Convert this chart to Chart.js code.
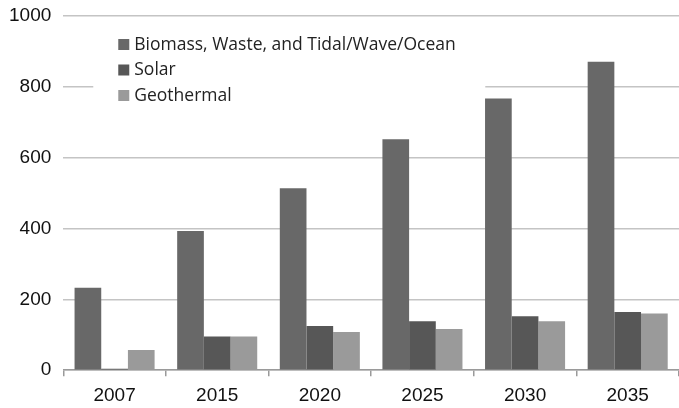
<!DOCTYPE html>
<html>
<head>
<meta charset="utf-8">
<script src="https://cdn.jsdelivr.net/npm/chart.js@4"></script>
<style>
    html, body { margin: 0; padding: 0; background: #fff; overflow: hidden; }
    #wrap { width: 679px; height: 408px; }
</style>
</head>
<body>
<div id="wrap"><canvas id="renewChart"></canvas></div>
<script>
// Chart values
const years = ['2007', '2015', '2020', '2025', '2030', '2035'];
const biomass = [233, 393, 514, 652, 767, 871];
const solar = [4, 95, 125, 138, 152, 164];
const geothermal = [57, 95, 108, 116, 138, 160];
const yTicks = [0, 200, 400, 600, 800, 1000];

// Legend drawn inside the plot area, on a white box over the grid lines
const insideLegend = {
    id: 'insideLegend',
    beforeDatasetsDraw(chart) {
        const ctx = chart.ctx;
        const area = chart.chartArea;
        const x = area.left + 55;
        const y = area.top + 28;
        ctx.save();
        ctx.fillStyle = '#ffffff';
        ctx.fillRect(area.left + 30, area.top + 10, 392, 90);
        ctx.font = '17.5px "Open Sans"';
        ctx.textBaseline = 'middle';
        chart.data.datasets.forEach((ds, i) => {
            const rowY = y + i * 25.5;
            ctx.fillStyle = ds.backgroundColor;
            ctx.fillRect(x, rowY - 5, 11, 11);
            ctx.fillStyle = '#222222';
            ctx.fillText(ds.label, x + 16, rowY + 1);
        });
        ctx.restore();
    }
};

const ctx = document.getElementById('renewChart').getContext('2d');
const renewChart = new Chart(ctx, {
    type: 'bar',
    data: {
        labels: years,
        datasets: [
            {
                label: 'Biomass, Waste, and Tidal/Wave/Ocean',
                data: biomass,
                backgroundColor: '#686868'
            },
            {
                label: 'Solar',
                data: solar,
                backgroundColor: '#575757'
            },
            {
                label: 'Geothermal',
                data: geothermal,
                backgroundColor: '#9a9a9a'
            }
        ]
    },
    options: {
        responsive: true,
        maintainAspectRatio: false,
        animation: false,
        layout: {
            padding: { left: -3, right: 0, top: 16, bottom: -7 }
        },
        datasets: {
            bar: {
                categoryPercentage: 0.78,
                barPercentage: 1.0
            }
        },
        plugins: {
            legend: { display: false },
            tooltip: { enabled: false }
        },
        scales: {
            x: {
                offset: true,
                border: { display: true, color: '#9a9a9a', width: 1.5 },
                grid: {
                    offset: true,
                    drawOnChartArea: false,
                    drawTicks: true,
                    tickLength: 6,
                    tickColor: '#9a9a9a',
                    lineWidth: 1.5
                },
                ticks: {
                    color: '#111111',
                    padding: 8,
                    font: { family: '"Liberation Sans", Arial, sans-serif', size: 19 }
                }
            },
            y: {
                min: 0,
                max: 1000,
                border: { display: false },
                grid: {
                    color: '#c4c4c4',
                    lineWidth: 1.5,
                    drawTicks: false
                },
                afterBuildTicks(scale) {
                    scale.ticks = yTicks.map(v => ({ value: v }));
                },
                afterFit(scale) {
                    // let the top grid line sit right under the layout padding
                    scale.paddingTop = 0;
                    scale.paddingBottom = 0;
                },
                ticks: {
                    color: '#111111',
                    padding: 12,
                    callback: v => String(v),
                    font: { family: '"Liberation Sans", Arial, sans-serif', size: 19 }
                }
            }
        }
    },
    plugins: [insideLegend]
});
</script>
</body>
</html>
